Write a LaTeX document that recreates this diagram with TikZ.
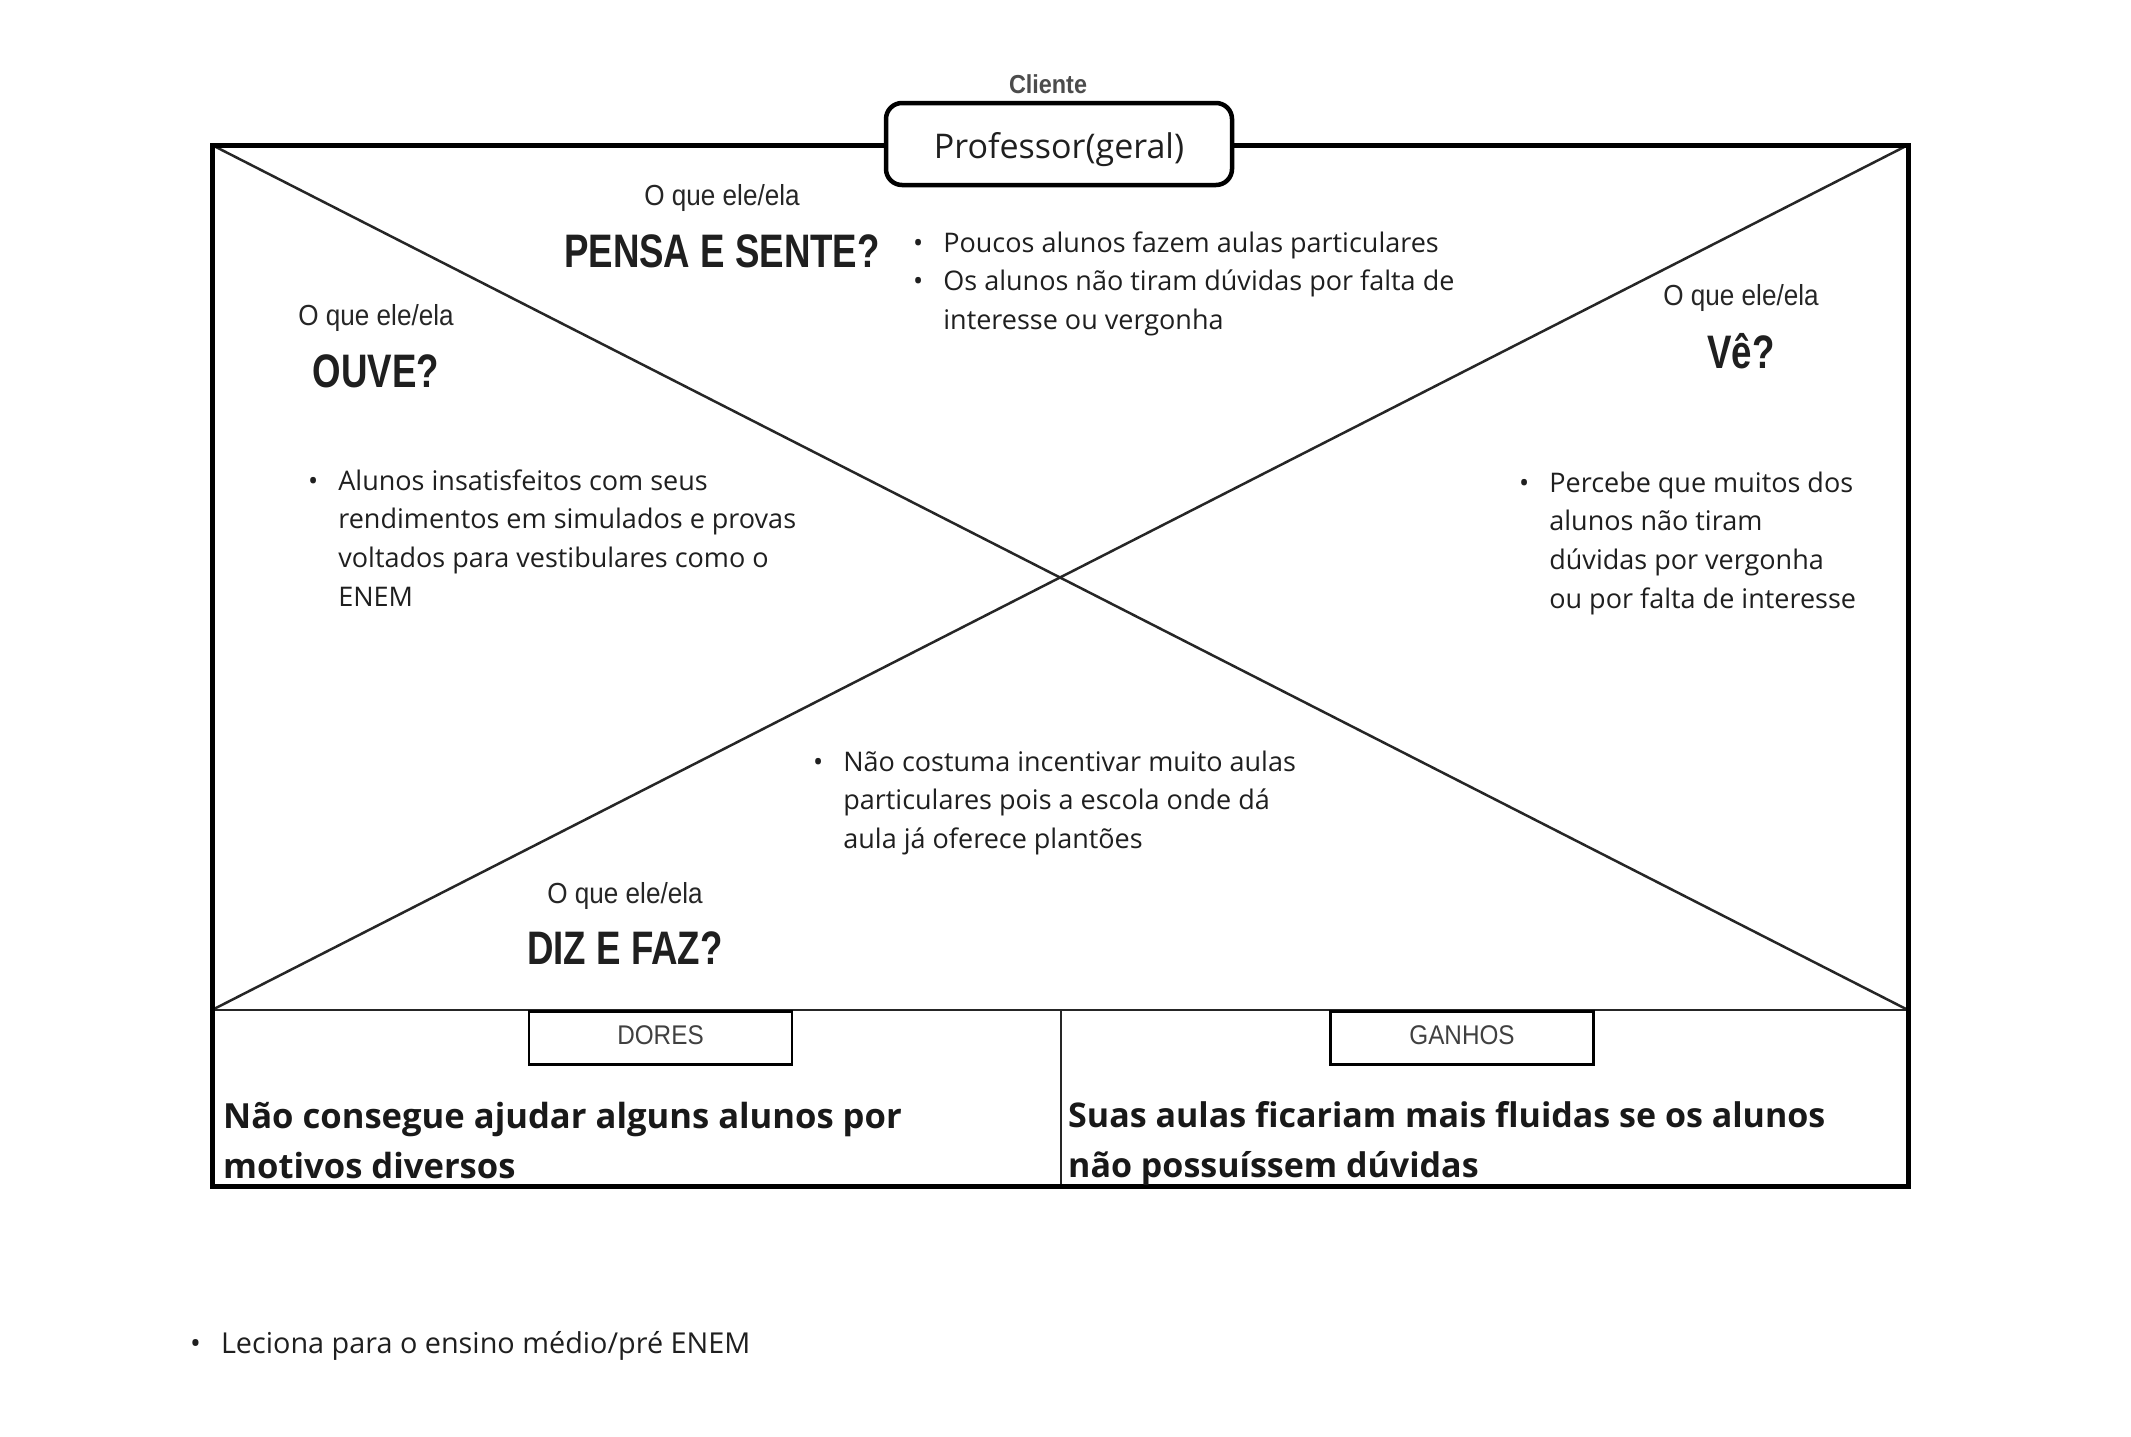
\documentclass[tikz,border=0pt]{standalone}
\usepackage{fontspec}
\setmainfont{Open Sans}
\newfontfamily\condfont[FakeStretch=0.78]{Liberation Sans}
\newfontfamily\condsmall[FakeStretch=0.9]{Liberation Sans}
\newcommand\blt{\textbullet}
\begin{document}
\begin{tikzpicture}[x=1pt,y=-1pt,
  frame/.style={line width=5pt,line join=miter},
  thin/.style={line width=2.5pt,black!85},
  hdr/.style={font=\condfont\bfseries\fontsize{47}{50}\selectfont,text=black!88,anchor=base,inner sep=0},
  sub/.style={font=\condsmall\fontsize{29}{30}\selectfont,text=black!85,anchor=base,inner sep=0},
  clistyle/.style={font=\condsmall\bfseries\fontsize{26}{30}\selectfont,text=black!70,anchor=base,inner sep=0},
  body/.style={font=\fontsize{27}{38.7}\selectfont,text=black!88,anchor=base west,inner sep=0},
  pain/.style={font=\bfseries\fontsize{34.6}{50}\selectfont,text=black!90,anchor=base west,inner sep=0},
  prof/.style={draw,line width=4.5pt,fill=white,rounded corners=16pt,minimum width=346pt,minimum height=82pt,font=\fontsize{34}{40}\selectfont,text=black!88,inner sep=0,text height=29pt,text depth=0pt},
  tag/.style={draw,line width=2.5pt,fill=white,minimum width=263pt,minimum height=53pt,anchor=north,inner sep=0,font=\condsmall\fontsize{27}{30}\selectfont,text=black!75,text height=19pt,text depth=6pt}
]
\useasboundingbox (0,0) rectangle (2131,1436);
\fill[white] (0,0) rectangle (2131,1436);
% corners
\coordinate (tl) at (212,145);
\coordinate (tr) at (1908,145);
\coordinate (bl) at (212,1186);
\coordinate (br) at (1908,1186);
\coordinate (ml) at (212,1010);
\coordinate (mr) at (1908,1010);
\coordinate (mm) at (1061,1010);
\coordinate (mb) at (1061,1186);
% diagonals and dividers
\draw[thin] (tl) -- (mr);
\draw[thin] (ml) -- (tr);
\draw[thin] (ml) -- (mr);
\draw[thin] (mm) -- (mb);
\draw[frame] (tl) rectangle (br);
% client box
\node[clistyle] (cli) at (1048,93) {Cliente};
\node[prof] (prof) at (1059,144) {Professor(geral)};
% headings
\node[sub] (s1) at (722,205) {O que ele/ela};
\node[hdr] (h1) at (722,267) {PENSA E SENTE?};
\node[sub] (s2) at (376,325) {O que ele/ela};
\node[hdr] (h2) at (376,387) {OUVE?};
\node[sub] (s3) at (1741,305) {O que ele/ela};
\node[hdr] (h3) at (1741,368) {Vê?};
\node[sub] (s4) at (625,903) {O que ele/ela};
\node[hdr] (h4) at (625,964) {DIZ E FAZ?};
% bullet lists
\node[body] (b1) at (913,252) {\begin{tabular}[t]{@{}l@{\hspace{20pt}}l@{}}
\blt & Poucos alunos fazem aulas particulares\\
\blt & Os alunos não tiram dúvidas por falta de\\
 & interesse ou vergonha
\end{tabular}};
\node[body] (b2) at (308,490) {\begin{tabular}[t]{@{}l@{\hspace{20pt}}l@{}}
\blt & Alunos insatisfeitos com seus\\
 & rendimentos em simulados e provas\\
 & voltados para vestibulares como o\\
 & ENEM
\end{tabular}};
\node[body] (b3) at (1519,492) {\begin{tabular}[t]{@{}l@{\hspace{20pt}}l@{}}
\blt & Percebe que muitos dos\\
 & alunos não tiram\\
 & dúvidas por vergonha\\
 & ou por falta de interesse
\end{tabular}};
\node[body] (b4) at (813,771) {\begin{tabular}[t]{@{}l@{\hspace{20pt}}l@{}}
\blt & Não costuma incentivar muito aulas\\
 & particulares pois a escola onde dá\\
 & aula já oferece plantões
\end{tabular}};
\node[body,font=\fontsize{28.8}{40}\selectfont] (b5) at (190,1353) {\begin{tabular}[t]{@{}l@{\hspace{20pt}}l@{}}
\blt & Leciona para o ensino médio/pré ENEM
\end{tabular}};
% tags
\node[tag] (dores) at (660.5,1010) {DORES};
\node[tag] (ganhos) at (1462,1010) {GANHOS};
% pains and gains
\node[pain] (p1) at (223,1128) {\begin{tabular}[t]{@{}l@{}}Não consegue ajudar alguns alunos por\\motivos diversos\end{tabular}};
\node[pain,font=\bfseries\fontsize{34}{50}\selectfont] (p2) at (1068,1127) {\begin{tabular}[t]{@{}l@{}}Suas aulas ficariam mais fluidas se os alunos\\não possuíssem dúvidas\end{tabular}};
\end{tikzpicture}
\end{document}
